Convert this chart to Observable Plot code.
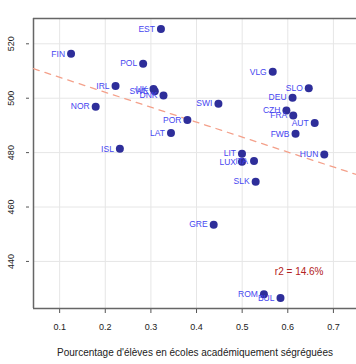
<!DOCTYPE html>
<html>
<head>
<meta charset="utf-8">
<script src="https://cdn.jsdelivr.net/npm/d3@7"></script>
<script src="https://cdn.jsdelivr.net/npm/@observablehq/plot@0.6"></script>
<style>
  html, body { margin: 0; padding: 0; background: #fff; }
  #chart svg { display: block; }
</style>
</head>
<body>
<div id="chart"></div>
<script>
const countries = ["EST","FIN","POL","IRL","UK","SWE","DNK","NOR","POR","LAT","ISL",
  "VLG","SLO","DEU","SWI","CZH","FRA","AUT","FWB","LIT","HUN","LUX","ITA","SLK","GRE","ROM","BUL"];
const segregation = [0.322,0.125,0.283,0.2225,0.3057,0.3085,0.3276,0.179,0.380,0.344,0.232,
  0.567,0.646,0.6105,0.448,0.597,0.612,0.659,0.617,0.4996,0.680,0.4996,0.526,0.5296,0.4376,0.5477,0.584];
const scores = [525.4,516.3,512.7,504.5,503.4,502.6,501.0,496.9,492.0,487.2,481.4,
  509.7,503.7,500.2,498.0,495.5,493.6,490.9,486.9,479.6,479.3,476.6,476.9,469.3,453.5,427.9,426.6];
const xTicks = [0.1,0.2,0.3,0.4,0.5,0.6,0.7];
const yTicks = [440,460,480,500,520];
const xTitle = "Pourcentage d'élèves en écoles académiquement ségréguées";
const r2Label = "r2 = 14.6%";
const r2Pos = {x: 0.625, y: 436.3};

const data = countries.map((c, i) => ({country: c, x: segregation[i], y: scores[i]}));

const xDomain = [0.0427, 0.7506];
const yDomain = [422.7, 529.3];

// least-squares fit computed from the data
const mx = d3.mean(segregation), my = d3.mean(scores);
const slope = d3.sum(segregation, (v, i) => (v - mx) * (scores[i] - my)) / d3.sum(segregation, v => (v - mx) ** 2);
const intercept = my - slope * mx;
const fitLine = xDomain.map(x => ({x, y: intercept + slope * x}));

const font = "'Liberation Sans', Arial, Helvetica, sans-serif";

const chart = Plot.plot({
  width: 356,
  height: 364,
  marginLeft: 33,
  marginTop: 18,
  marginRight: 0,
  marginBottom: 56,
  style: {fontFamily: font, fontSize: "9px", background: "#fff", color: "#333"},
  x: {domain: xDomain},
  y: {domain: yDomain},
  marks: [
    Plot.gridX(xTicks, {stroke: "#e6e6e6", strokeOpacity: 1, strokeWidth: 1}),
    Plot.gridY(yTicks, {stroke: "#e6e6e6", strokeOpacity: 1, strokeWidth: 1}),
    Plot.axisX(xTicks, {tickSize: 5, tickPadding: 10, stroke: "#555", fontSize: 9, fill: "#222", label: null, tickFormat: d3.format(".1f")}),
    Plot.axisY(yTicks, {tickSize: 3, tickPadding: 13, dx: -4, stroke: "#555", fontSize: 9, fill: "#222", label: null, tickRotate: -90}),
    Plot.ruleX([xDomain[0]], {stroke: "#666", strokeWidth: 1.5}),
    Plot.ruleY([yDomain[0], yDomain[1]], {stroke: "#666", strokeWidth: 1.5}),
    Plot.line(fitLine, {x: "x", y: "y", stroke: "#f4a08a", strokeWidth: 1.3, strokeDasharray: "6,6"}),
    Plot.dot(data, {x: "x", y: "y", r: 4, fill: "#2e2e9a", stroke: "none"}),
    Plot.text(data, {x: "x", y: "y", text: "country", textAnchor: "end", dx: -6, fill: "#4646f0", fontSize: 8.5}),
    Plot.text([r2Label], {x: () => r2Pos.x, y: () => r2Pos.y, text: d => d, fill: "#b22222", fontSize: 10}),
    Plot.text([xTitle], {frameAnchor: "bottom", dy: 47, text: d => d, fill: "#222", fontSize: 10})
  ]
});
document.getElementById("chart").appendChild(chart);
</script>
</body>
</html>
